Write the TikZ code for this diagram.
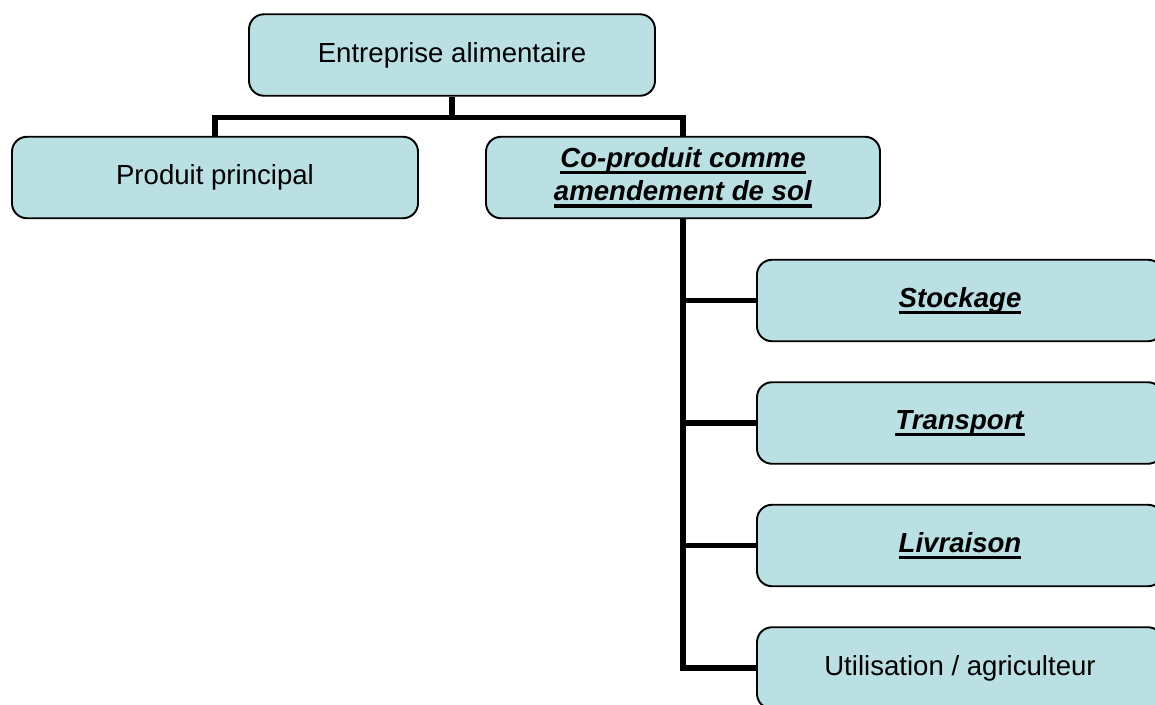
\documentclass[tikz,border=0pt]{standalone}
\usepackage{fontspec}
\setmainfont{Liberation Sans}
\usepackage{xcolor}
\usetikzlibrary{positioning}

\definecolor{boxfill}{RGB}{186,224,227}
\newsavebox{\ulbox}
\newcommand{\ubi}[1]{\sbox{\ulbox}{\textbf{\textit{#1}}}%
  \rlap{\rule[-3.9pt]{\wd\ulbox}{1.8pt}}\usebox{\ulbox}}

\begin{document}
\begin{tikzpicture}[every node/.style={on grid},
    orgbox/.style={draw=black,line width=1.1pt,fill=boxfill,rounded corners=0.3cm,
      minimum width=8.12cm,minimum height=1.63cm,align=center,
      font=\fontsize{15.7}{20}\selectfont},
    link/.style={line width=3pt}]
    \useasboundingbox (0,0) rectangle (23.1,-14.08);
    \node[orgbox] (top) at (9.04,-1.1) {Entreprise alimentaire};
    \node[orgbox,below left=2.45cm and 4.74cm of top] (pp) {Produit principal};
    \node[orgbox,minimum width=7.88cm,below right=2.45cm and 4.62cm of top] (cop)
      {\ubi{Co-produit comme}\\[-1pt]\ubi{amendement de sol}};
    \node[orgbox,below right=2.46cm and 5.54cm of cop] (stock) {\ubi{Stockage}};
    \node[orgbox,below=2.45cm of stock] (trans) {\ubi{Transport}};
    \node[orgbox,below=2.45cm of trans] (livr) {\ubi{Livraison}};
    \node[orgbox,below=2.45cm of livr] (use) {Utilisation / agriculteur};
    % tree
    \coordinate (bus) at ([yshift=-0.41cm]top.south);
    \draw[link] (top.south) -- (bus);
    \draw[link] (pp.north) |- (bus) -| (cop.north);
    \draw[link] (cop.south) |- (use.west);
    \draw[link] (cop.south |- stock.west) -- (stock.west);
    \draw[link] (cop.south |- trans.west) -- (trans.west);
    \draw[link] (cop.south |- livr.west) -- (livr.west);
  \end{tikzpicture}
\end{document}
